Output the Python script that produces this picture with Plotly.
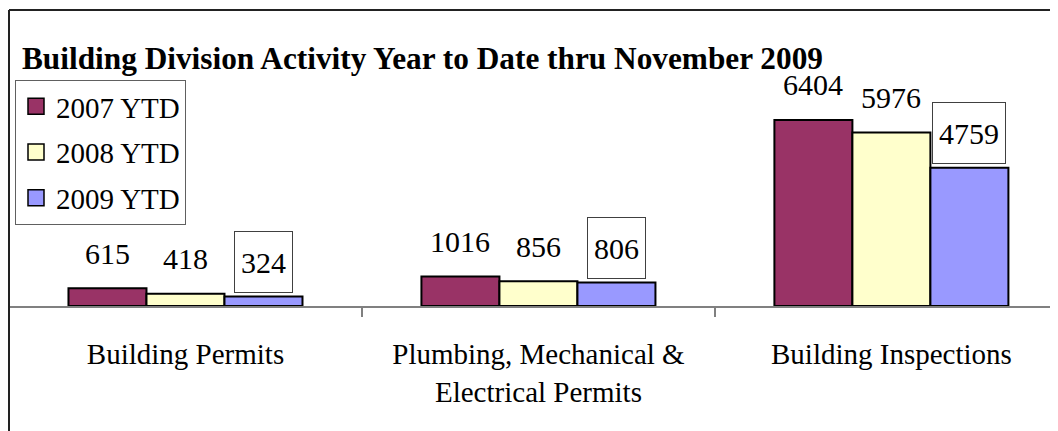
import plotly.graph_objects as go

categories = ["Building Permits",
              "Plumbing, Mechanical &<br>Electrical Permits",
              "Building Inspections"]
series_names = ["2007 YTD", "2008 YTD", "2009 YTD"]
ytd_2007 = [615, 1016, 6404]
ytd_2008 = [418, 856, 5976]
ytd_2009 = [324, 806, 4759]
colors = ["#993366", "#FFFFCC", "#9999FF"]
title_text = "Building Division Activity Year to Date thru November 2009"

FONT = "Liberation Serif, Times New Roman, serif"
BARGAP = 0.337
series = [ytd_2007, ytd_2008, ytd_2009]

# page body has an 8px margin; figure is sized to fit the 1058x431 window
W, H = 1050, 423

fig = go.Figure()
for name, vals, col in zip(series_names, series, colors):
    fig.add_trace(go.Bar(
        name=name, x=categories, y=vals, showlegend=False,
        marker=dict(color=col, line=dict(color="black", width=2)),
    ))
# legend entries with larger square swatches
for name, col in zip(series_names, colors):
    fig.add_trace(go.Scatter(
        name=name, x=[None], y=[None], mode="markers", legendgroup=name,
        marker=dict(symbol="square", size=16, color=col,
                    line=dict(color="black", width=1.5)),
    ))

w = (1 - BARGAP) / 3
annotations = []
for k, vals in enumerate(series):
    boxed = (k == 2)
    for i, v in enumerate(vals):
        a = dict(x=i + (k - 1) * w, y=v, xref="x", yref="y", text=str(v),
                 showarrow=False, xanchor="center", yanchor="middle", yshift=35,
                 font=dict(family=FONT, size=30, color="black"))
        if boxed:
            a.update(bordercolor="#404040", borderwidth=1, borderpad=0,
                     width=len(str(v)) * 15 + 12, height=60, bgcolor="white")
        annotations.append(a)

fig.update_layout(
    width=W, height=H,
    margin=dict(l=1, r=0, t=2, b=125),
    paper_bgcolor="white", plot_bgcolor="white",
    barmode="group", bargap=BARGAP, bargroupgap=0,
    font=dict(family=FONT, size=29, color="black"),
    title=dict(text="<b>" + title_text + "</b>", xref="container", yref="container",
               x=14 / W, xanchor="left", y=1 - 50 / H, yanchor="middle",
               font=dict(family=FONT, size=31.3, color="black")),
    legend=dict(x=(15 - 9) / 1049, y=(306 - 80) / 296, xanchor="left", yanchor="top",
                bordercolor="#606060", borderwidth=1, bgcolor="white",
                font=dict(family=FONT, size=29, color="black"),
                traceorder="grouped", tracegroupgap=5),
    xaxis=dict(type="category", range=[-0.5, 2.472], showline=True, linecolor="#808080",
               linewidth=2, ticks="outside", tickson="boundaries", ticklen=9,
               tickcolor="#808080", tickwidth=2, showgrid=False, ticklabelstandoff=21,
               tickfont=dict(family=FONT, size=29, color="black")),
    yaxis=dict(range=[0, 10190], visible=False, showgrid=False, zeroline=False),
    annotations=annotations,
    shapes=[
        dict(type="line", xref="paper", yref="paper", x0=0, x1=1, y0=1, y1=1,
             line=dict(color="#222222", width=2)),
        dict(type="line", xref="paper", yref="paper", x0=0, x1=0, y0=1, y1=-0.5,
             line=dict(color="#222222", width=2)),
    ],
)

fig.write_html("out.html")
